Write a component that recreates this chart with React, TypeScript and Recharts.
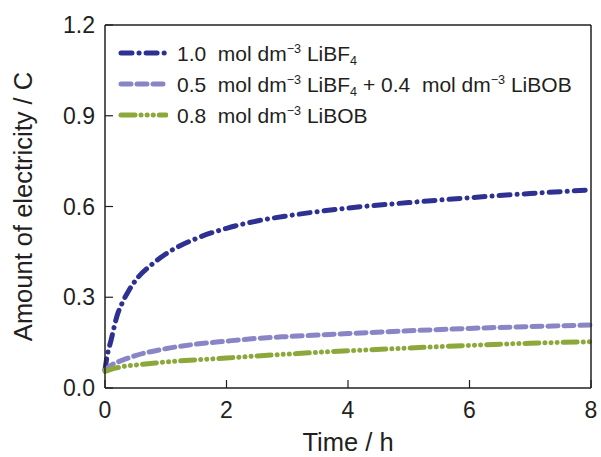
import { LineChart, Line, XAxis, YAxis, Label } from 'recharts'

const times = [0, 0.03, 0.1, 0.2, 0.3, 0.4, 0.5, 0.75, 1, 1.5, 2, 2.5, 3, 3.5, 4, 5, 6, 7, 8]
const lib4 = [0.06, 0.1, 0.158, 0.24, 0.288, 0.325, 0.355, 0.405, 0.443, 0.494, 0.528, 0.552, 0.569, 0.583, 0.595, 0.613, 0.629, 0.643, 0.655]
const mixed = [0.06, 0.065, 0.075, 0.085, 0.093, 0.1, 0.107, 0.12, 0.13, 0.145, 0.155, 0.164, 0.17, 0.175, 0.18, 0.189, 0.197, 0.203, 0.208]
const libob = [0.055, 0.057, 0.062, 0.067, 0.071, 0.074, 0.076, 0.081, 0.086, 0.093, 0.099, 0.106, 0.112, 0.118, 0.123, 0.132, 0.141, 0.148, 0.153]

const xTicks = [0, 2, 4, 6, 8]
const yTicks = [0, 0.3, 0.6, 0.9, 1.2]

const FONT = '"Liberation Sans", Arial, sans-serif'
const INK = '#231f20'

const series = [
	{ key: 'lib4', color: '#2e3192', dash: '11 7 0.1 7' },
	{ key: 'mixed', color: '#8a86c6', dash: '10 6' },
	{ key: 'libob', color: '#8da83a', dash: '14 6 0.1 6 0.1 6 0.1 6' },
]

const data = times.map((t, i) => ({ t, lib4: lib4[i], mixed: mixed[i], libob: libob[i] }))

const legendRows = [
	<>1.0&nbsp; mol dm<sup>−3</sup> LiBF<sub>4</sub></>,
	<>0.5&nbsp; mol dm<sup>−3</sup> LiBF<sub>4</sub> + 0.4&nbsp; mol dm<sup>−3</sup> LiBOB</>,
	<>0.8&nbsp; mol dm<sup>−3</sup> LiBOB</>,
]

// legend drawn over the plot (recharts Legend would reserve space and squeeze the plot)
const LegendBox = () => (
	<div style={{ position: 'absolute', left: 118, top: 37.5, fontFamily: FONT, fontSize: 21, color: INK, whiteSpace: 'nowrap' }}>
		{series.map((s, i) => (
			<div key={s.key} style={{ display: 'flex', alignItems: 'center', height: 31 }}>
				<svg width={50} height={10} style={{ marginRight: 9 }}>
					<line x1={3} y1={5} x2={48} y2={5} stroke={s.color} strokeWidth={5}
						strokeLinecap="round" strokeDasharray={s.dash} />
				</svg>
				<span style={{ lineHeight: 1 }}>{legendRows[i]}</span>
			</div>
		))}
		<style>{`sup{font-size:0.6em;vertical-align:0.6em;line-height:0} sub{font-size:0.6em;vertical-align:-0.3em;line-height:0}`}</style>
	</div>
)

const tickStyle = { fontFamily: FONT, fontSize: 23, fill: INK }
const titleStyle = { fontFamily: FONT, fontSize: 25.5, fill: INK }

export default function App() {
	return (
		<div style={{ position: 'absolute', left: 0, top: 0, width: 601, height: 457, background: '#fff' }}>
			<LineChart width={601} height={457} data={data}
				margin={{ top: 24, right: 9, bottom: 24, left: 30 }}>
				<XAxis dataKey="t" type="number" domain={[0, 8]} ticks={xTicks}
					tickSize={-8} tickMargin={22} tick={tickStyle} height={45}
					axisLine={{ stroke: INK, strokeWidth: 1.5 }} tickLine={{ stroke: INK, strokeWidth: 1.2 }}>
					<Label value="Time / h" position="center" dy={31} style={titleStyle} />
				</XAxis>
				<XAxis xAxisId="top" orientation="top" dataKey="t" type="number" domain={[0, 8]}
					height={1} tick={false} tickLine={false} axisLine={{ stroke: INK, strokeWidth: 1.5 }} />
				<YAxis type="number" domain={[0, 1.2]} ticks={yTicks} width={75}
					tickFormatter={(v: number) => v.toFixed(1)}
					tickSize={-8} tickMargin={18} tick={tickStyle}
					axisLine={{ stroke: INK, strokeWidth: 1.5 }} tickLine={{ stroke: INK, strokeWidth: 1.2 }}>
					<Label value="Amount of electricity / C" angle={-90} position="center" dx={-45}
						style={{ ...titleStyle, textAnchor: 'middle' }} />
				</YAxis>
				<YAxis yAxisId="right" orientation="right" type="number" domain={[0, 1.2]}
					width={1} tick={false} tickLine={false} axisLine={{ stroke: INK, strokeWidth: 1.5 }} />
				{series.map((s) => (
					<Line key={s.key} dataKey={s.key} type="monotone" stroke={s.color} strokeWidth={5}
						strokeLinecap="round" strokeDasharray={s.dash} dot={false}
						isAnimationActive={false} />
				))}
			</LineChart>
			<LegendBox />
		</div>
	)
}
